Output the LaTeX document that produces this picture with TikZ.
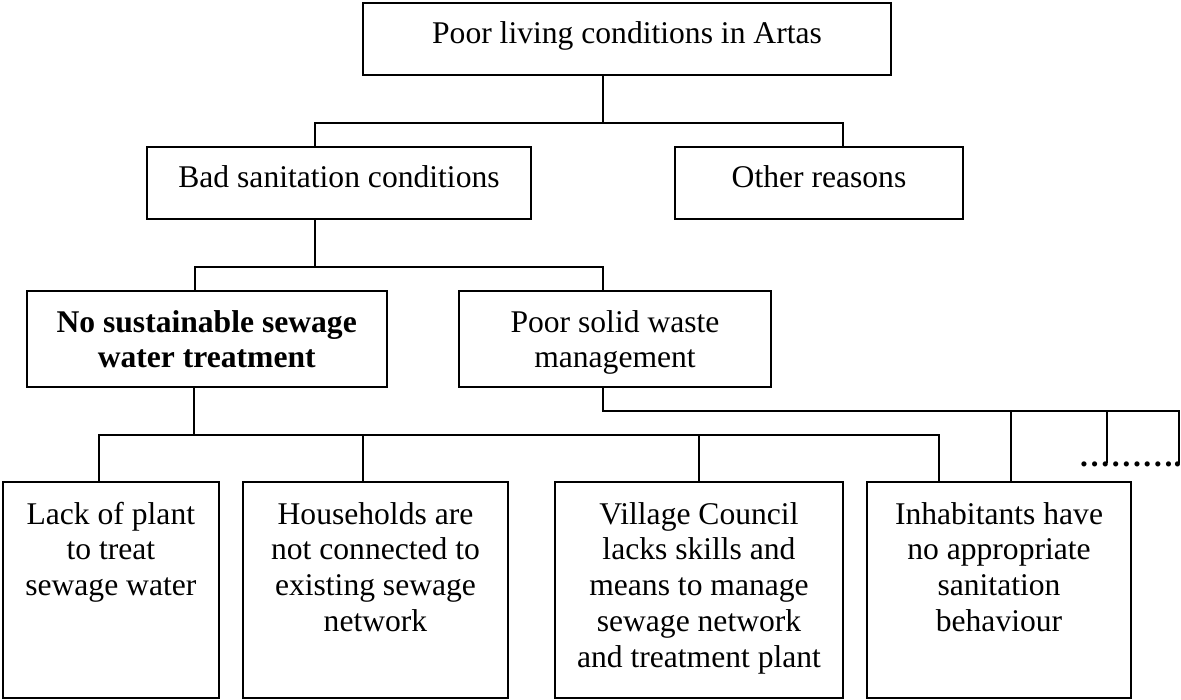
\documentclass[tikz,border=0pt]{standalone}
\usepackage{fontspec}
\setmainfont{Liberation Serif}
\usetikzlibrary{fit}
\begin{document}
\begin{tikzpicture}[x=0.5pt,y=-0.5pt,
  box/.style={draw, line width=0.9pt, inner sep=0pt},
  txt/.style={anchor=base, inner sep=0pt, font=\fontsize{15.8}{17.9}\selectfont},
  conn/.style={line width=0.9pt}]
\useasboundingbox (0,0) rectangle (1181,700);
% boxes
\node[box, fit={(363,3)(891,75)}] (top) {};
\node[box, fit={(147,147)(531,219)}] (bad) {};
\node[box, fit={(675,147)(963,219)}] (other) {};
\node[box, fit={(26.7,290.7)(386.7,386.7)}] (nosus) {};
\node[box, fit={(459,290.7)(771,386.7)}] (poor) {};
\node[box, fit={(2.7,482)(219,698)}] (b1) {};
\node[box, fit={(243,482)(508,698)}] (b2) {};
\node[box, fit={(555,482)(843,698)}] (b3) {};
\node[box, fit={(867,482)(1131,698)}] (b4) {};
% texts
\node[txt] (ttop) at (627,44) {Poor living conditions in Artas};
\node[txt] (tbad) at (339,188) {Bad sanitation conditions};
\node[txt] (tother) at (819,188) {Other reasons};
\node[txt] (tnosus) at (206.7,332) {\begin{tabular}[t]{@{}c@{}}\bfseries No sustainable sewage\\ \bfseries water treatment\end{tabular}};
\node[txt] (tpoor) at (615,332) {\begin{tabular}[t]{@{}c@{}}Poor solid waste\\ management\end{tabular}};
\node[txt] (tb1) at (110.85,524) {\begin{tabular}[t]{@{}c@{}}Lack of plant\\ to treat\\ sewage water\end{tabular}};
\node[txt] (tb2) at (375.5,524) {\begin{tabular}[t]{@{}c@{}}Households are\\ not connected to\\ existing sewage\\ network\end{tabular}};
\node[txt] (tb3) at (699,524) {\begin{tabular}[t]{@{}c@{}}Village Council\\ lacks skills and\\ means to manage\\ sewage network\\ and treatment plant\end{tabular}};
\node[txt] (tb4) at (999,524) {\begin{tabular}[t]{@{}c@{}}Inhabitants have\\ no appropriate\\ sanitation\\ behaviour\end{tabular}};
\node[txt, anchor=base west] (dots) at (1078.5,466) {\bfseries ……….};
% junction coordinates
\coordinate (j1) at (603,122.7);
\coordinate (j1L) at (315,122.7);
\coordinate (j1R) at (843,122.7);
\coordinate (j2) at (315,266.7);
\coordinate (j2L) at (195,266.7);
\coordinate (j2R) at (603,266.7);
\coordinate (j3) at (194,435);
\coordinate (j3a) at (98.7,435);
\coordinate (j3b) at (363,435);
\coordinate (j3c) at (698.6,435);
\coordinate (j3d) at (939,435);
\coordinate (j4) at (603,411);
\coordinate (j4a) at (1011,411);
\coordinate (j4b) at (1107,411);
\coordinate (j4c) at (1179,411);
\coordinate (d1) at (1107,463);
\coordinate (d2) at (1179,463);
% connectors
\draw[conn] (top.south -| j1) -- (j1);
\draw[conn] (bad.north -| j1L) -- (j1L) -- (j1R) -- (other.north -| j1R);
\draw[conn] (bad.south -| j2) -- (j2);
\draw[conn] (nosus.north -| j2L) -- (j2L) -- (j2R) -- (poor.north -| j2R);
\draw[conn] (nosus.south -| j3) -- (j3);
\draw[conn] (b1.north -| j3a) -- (j3a) -- (j3d) -- (b4.north -| j3d);
\draw[conn] (j3b) -- (b2.north -| j3b);
\draw[conn] (j3c) -- (b3.north -| j3c);
\draw[conn] (poor.south -| j4) -- (j4) -- (j4c) -- (d2);
\draw[conn] (j4a) -- (b4.north -| j4a);
\draw[conn] (j4b) -- (d1);
\end{tikzpicture}
\end{document}
